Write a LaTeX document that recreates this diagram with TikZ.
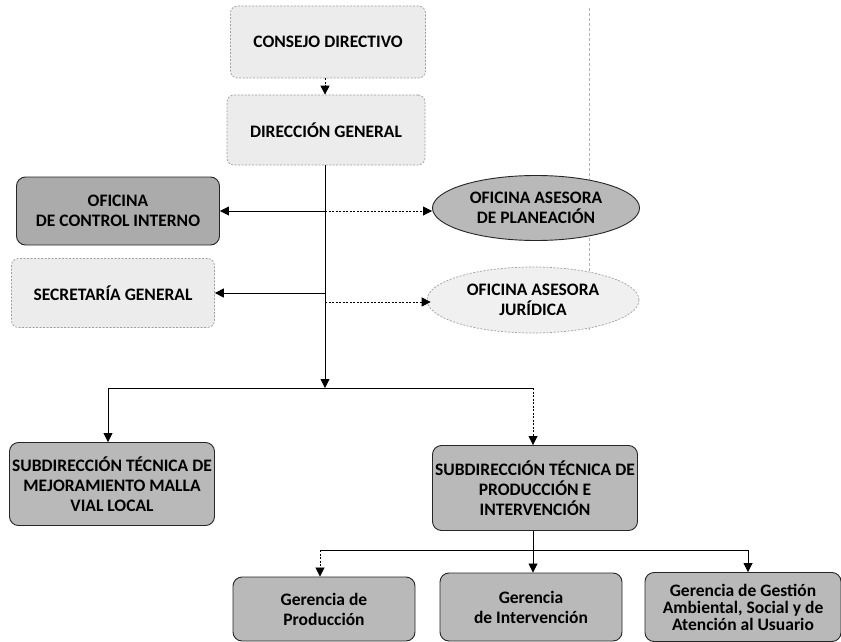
\documentclass[tikz,border=0pt]{standalone}
\usepackage{fontspec}
\setmainfont{Carlito}
\usetikzlibrary{arrows.meta,shapes.geometric}
\tikzset{
  base/.style={align=center,inner sep=0pt,font=\fontsize{17.5}{20}\selectfont\bfseries,text=black},
  lightbox/.style={base,rectangle,rounded corners=7pt,fill=gray!15,draw=gray!75,dash pattern=on 2pt off 1.5pt,line width=0.7pt},
  darkbox/.style={base,rectangle,rounded corners=9pt,fill=gray!66,draw=black!85,line width=0.9pt},
  midbox/.style={base,rectangle,rounded corners=9pt,fill=gray!55,draw=black!85,line width=0.9pt},
  darkell/.style={base,ellipse,fill=gray!55,draw=black!85,line width=0.9pt},
  lightell/.style={base,ellipse,fill=gray!12,draw=gray!75,dash pattern=on 2pt off 1.5pt,line width=0.7pt},
  conn/.style={draw=black,line width=0.8pt},
  arr/.style={conn,-{Triangle[length=9pt,width=9pt]}},
  dotarr/.style={arr,dash pattern=on 2pt off 1.5pt},
}
\begin{document}
\begin{tikzpicture}[x=1pt,y=-1pt]
\useasboundingbox (0,0) rectangle (841,642);
% faint vertical guide line
\coordinate (gtop) at (589,8);
\coordinate (gbot) at (589,330);
\draw[gray!60,dash pattern=on 3pt off 2pt,line width=0.6pt] (gtop) -- (gbot);

\node[lightbox,minimum width=195,minimum height=72] (consejo) at (328,42) {CONSEJO DIRECTIVO};
\node[lightbox,minimum width=198,minimum height=70] (direccion) at (326,130) {DIRECCIÓN GENERAL};
\node[darkbox,minimum width=203,minimum height=68] (control) at (118,211) {OFICINA\\DE CONTROL INTERNO};
\node[lightbox,minimum width=203,minimum height=69] (secretaria) at (113,293) {SECRETARÍA GENERAL};
\node[darkell,minimum width=207,minimum height=65] (planeacion) at (536,208) {OFICINA ASESORA\\DE PLANEACIÓN};
\node[lightell,minimum width=212,minimum height=66] (juridica) at (533,300) {OFICINA ASESORA\\JURÍDICA};
\node[midbox,minimum width=205,minimum height=83] (sub1) at (112,484) {SUBDIRECCIÓN TÉCNICA DE\\MEJORAMIENTO MALLA\\VIAL LOCAL};
\node[midbox,minimum width=205,minimum height=85] (sub2) at (535,488) {SUBDIRECCIÓN TÉCNICA DE\\PRODUCCIÓN E\\INTERVENCIÓN};
\node[midbox,minimum width=182,minimum height=64] (g1) at (324,609) {Gerencia de\\Producción};
\node[midbox,minimum width=182,minimum height=68] (g2) at (531,607) {Gerencia\\de Intervención};
\node[midbox,minimum width=196,minimum height=69,font=\fontsize{17.5}{17}\selectfont\bfseries] (g3) at (743,607) {Gerencia de Gestión\\Ambiental, Social y de\\Atención al Usuario};

% junction coordinates
\coordinate (tr0) at (325,165);
\coordinate (tr1) at (325,211);
\coordinate (tr2) at (325,293);
\coordinate (tr3) at (325,302);
\coordinate (bar) at (325,388);
\coordinate (barL) at (108,388);
\coordinate (barR) at (533,388);
\coordinate (lowC) at (533,550);
\coordinate (lowL) at (320,550);
\coordinate (lowR) at (748,550);

\draw[dotarr] (consejo.south -| tr0) -- (direccion.north -| tr0);
\draw[arr] (tr0) -- (bar);
\draw[arr] (tr1) -- (tr1 -| control.east);
\draw[dotarr] (tr1) -- (tr1 -| planeacion.west);
\draw[arr] (tr2) -- (tr2 -| secretaria.east);
\draw[dotarr] (tr3) -- ([xshift=4pt]tr3 -| juridica.west);
\draw[conn] (barL) -- (barR);
\draw[arr] (barL) -- (sub1.north -| barL);
\draw[dotarr] (barR) -- (sub2.north -| barR);
\draw[conn] (sub2.south -| lowC) -- (lowC);
\draw[conn] (lowL) -- (lowR);
\draw[dotarr] (lowL) -- (g1.north -| lowL);
\draw[arr] (lowC) -- (g2.north -| lowC);
\draw[arr] (lowR) -- (g3.north -| lowR);
\end{tikzpicture}
\end{document}
